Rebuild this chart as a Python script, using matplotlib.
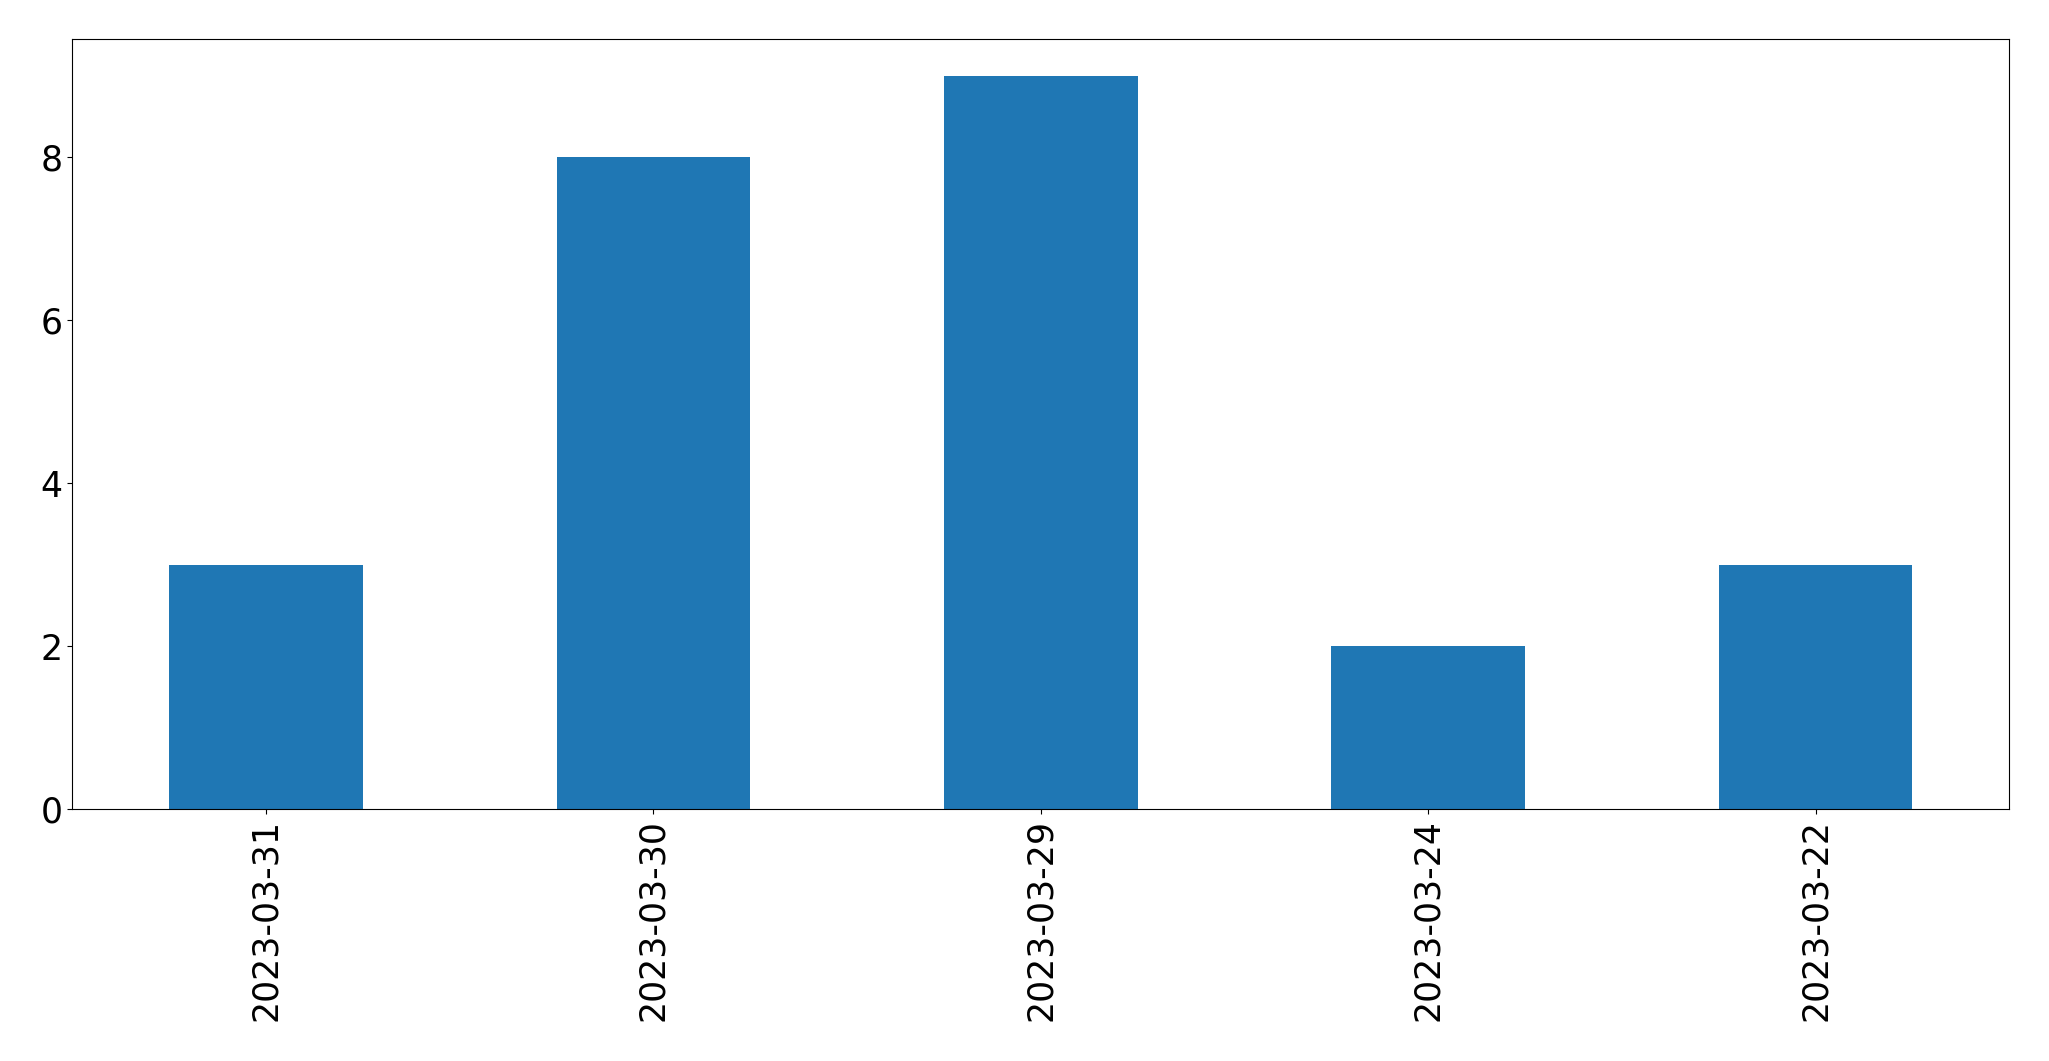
import matplotlib
matplotlib.use("Agg")
import matplotlib.pyplot as plt
import pandas as pd

dates = ["2023-03-31", "2023-03-30", "2023-03-29", "2023-03-24", "2023-03-22"]
counts = [3, 8, 9, 2, 3]

s = pd.Series(counts, index=dates)

fig, ax = plt.subplots(figsize=(20.49, 10.61), dpi=100)
s.plot(kind="bar", ax=ax, color="#1f77b4")
ax.tick_params(axis="both", labelsize=25)
plt.subplots_adjust(left=0.0353, right=0.9806, top=0.9632, bottom=0.2372)
fig.savefig("out.png", dpi=100)
